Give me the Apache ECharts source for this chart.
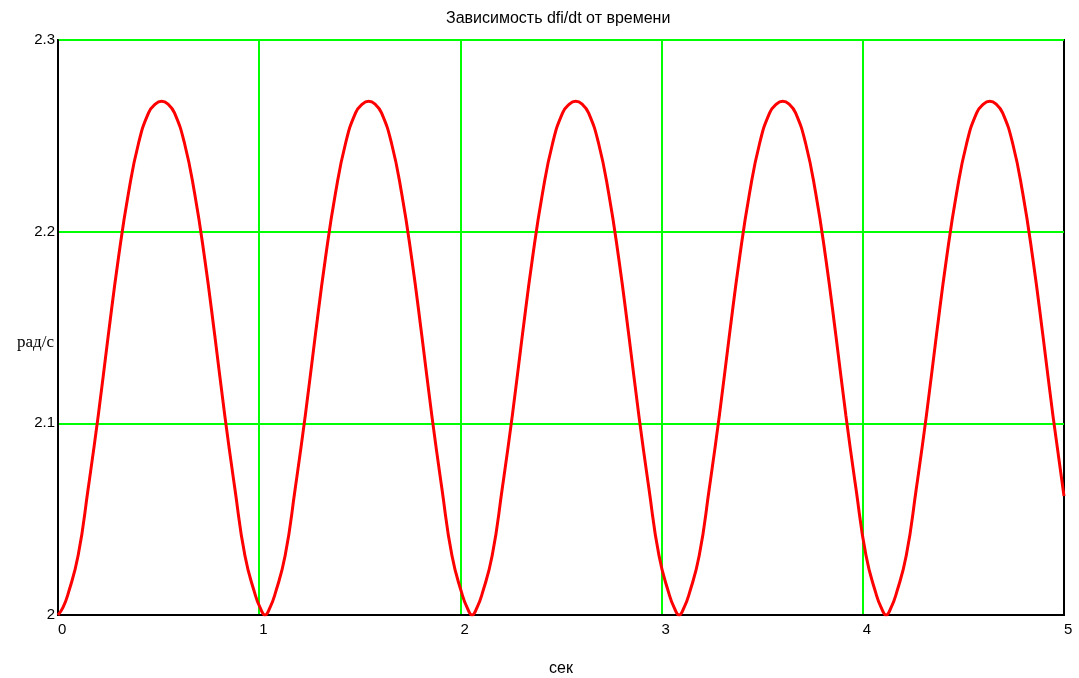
<!DOCTYPE html>
<html>
<head>
<meta charset="utf-8">
<script src="https://cdn.jsdelivr.net/npm/echarts@6/dist/echarts.min.js"></script>
<style>
html,body{margin:0;padding:0;background:#fff;}
#chart{width:1079px;height:678px;}
</style>
</head>
<body>
<div id="chart"></div>
<script>
// Time, seconds (x values)
var timeSec = [
  0, 0.025, 0.05, 0.10, 0.15, 0.20, 0.25, 0.30, 0.35, 0.40, 0.45, 0.483, 0.515, 0.547, 0.579, 0.629, 0.679, 0.729, 0.779, 0.829, 0.879, 0.929, 0.979, 1.004,
  1.029, 1.054, 1.079, 1.129, 1.179, 1.229, 1.279, 1.329, 1.379, 1.429, 1.479, 1.512, 1.544, 1.576, 1.608, 1.658, 1.708, 1.758, 1.808, 1.858, 1.908, 1.958, 2.008, 2.033,
  2.058, 2.083, 2.108, 2.158, 2.208, 2.258, 2.308, 2.358, 2.408, 2.458, 2.508, 2.541, 2.573, 2.605, 2.637, 2.687, 2.737, 2.787, 2.837, 2.887, 2.937, 2.987, 3.037, 3.062,
  3.087, 3.112, 3.137, 3.187, 3.237, 3.287, 3.337, 3.387, 3.437, 3.487, 3.537, 3.570, 3.602, 3.634, 3.666, 3.716, 3.766, 3.816, 3.866, 3.916, 3.966, 4.016, 4.066, 4.091,
  4.116, 4.141, 4.166, 4.216, 4.266, 4.316, 4.366, 4.416, 4.466, 4.516, 4.566, 4.599, 4.631, 4.663, 4.695, 4.745, 4.795, 4.845, 4.895, 4.945, 5.0
];
// dfi/dt, rad/s
var omega = [
  2.000, 2.004, 2.011, 2.031, 2.066, 2.104, 2.146, 2.186, 2.220, 2.246, 2.262, 2.2665, 2.268, 2.2665, 2.262, 2.246, 2.220, 2.186, 2.146, 2.104, 2.066, 2.031, 2.011, 2.004,
  2.000, 2.004, 2.011, 2.031, 2.066, 2.104, 2.146, 2.186, 2.220, 2.246, 2.262, 2.2665, 2.268, 2.2665, 2.262, 2.246, 2.220, 2.186, 2.146, 2.104, 2.066, 2.031, 2.011, 2.004,
  2.000, 2.004, 2.011, 2.031, 2.066, 2.104, 2.146, 2.186, 2.220, 2.246, 2.262, 2.2665, 2.268, 2.2665, 2.262, 2.246, 2.220, 2.186, 2.146, 2.104, 2.066, 2.031, 2.011, 2.004,
  2.000, 2.004, 2.011, 2.031, 2.066, 2.104, 2.146, 2.186, 2.220, 2.246, 2.262, 2.2665, 2.268, 2.2665, 2.262, 2.246, 2.220, 2.186, 2.146, 2.104, 2.066, 2.031, 2.011, 2.004,
  2.000, 2.004, 2.011, 2.031, 2.066, 2.104, 2.146, 2.186, 2.220, 2.246, 2.262, 2.2665, 2.268, 2.2665, 2.262, 2.246, 2.220, 2.186, 2.146, 2.104, 2.062
];
var titleText = 'Зависимость dfi/dt от времени';
var xName = 'сек';
var yName = 'рад/с';

var seriesData = timeSec.map(function (t, i) { return [t, omega[i]]; });

var chart = echarts.init(document.getElementById('chart'), null, {renderer: 'canvas'});
chart.setOption({
  animation: false,
  backgroundColor: '#ffffff',
  graphic: [
    {type: 'text', left: 446, top: 11, style: {text: titleText, fill: '#000',
      font: 'normal 16px "Liberation Sans", Arial, sans-serif'}},
    {type: 'text', right: 1079 - 54, top: 334, style: {text: yName, fill: '#000',
      font: 'normal 17px "Liberation Serif", "Times New Roman", serif'}}
  ],
  grid: {
    left: 58, right: 15, top: 40, bottom: 63,
    outerBoundsMode: 'none', containLabel: false,
    show: true, borderColor: '#000', borderWidth: 2, backgroundColor: 'transparent'
  },
  xAxis: {
    type: 'value', min: 0, max: 5, interval: 1,
    name: xName, nameLocation: 'middle', nameGap: 46,
    nameTextStyle: {fontFamily: 'Liberation Sans, Arial, sans-serif', fontSize: 16, color: '#000'},
    axisLine: {show: true, lineStyle: {color: '#000', width: 2}},
    axisTick: {show: false},
    axisLabel: {margin: 7, align: 'left', fontFamily: 'Liberation Sans, Arial, sans-serif', fontSize: 15, color: '#000'},
    splitLine: {show: true, showMinLine: false, showMaxLine: false, lineStyle: {color: '#00ff00', width: 2}}
  },
  yAxis: {
    type: 'value', min: 2, max: 2.3, interval: 0.1,
    axisLine: {show: true, lineStyle: {color: '#000', width: 2}},
    axisTick: {show: false},
    axisLabel: {margin: 3, fontFamily: 'Liberation Sans, Arial, sans-serif', fontSize: 15, color: '#000',
      formatter: function (v) { return String(Math.round(v * 10) / 10); }},
    splitLine: {show: true, showMinLine: false, showMaxLine: true, lineStyle: {color: '#00ff00', width: 2}}
  },
  series: [{
    type: 'line',
    data: seriesData,
    smooth: 0.5,
    showSymbol: false,
    lineStyle: {color: '#ff0000', width: 3},
    z: 5
  }]
});
</script>
</body>
</html>
